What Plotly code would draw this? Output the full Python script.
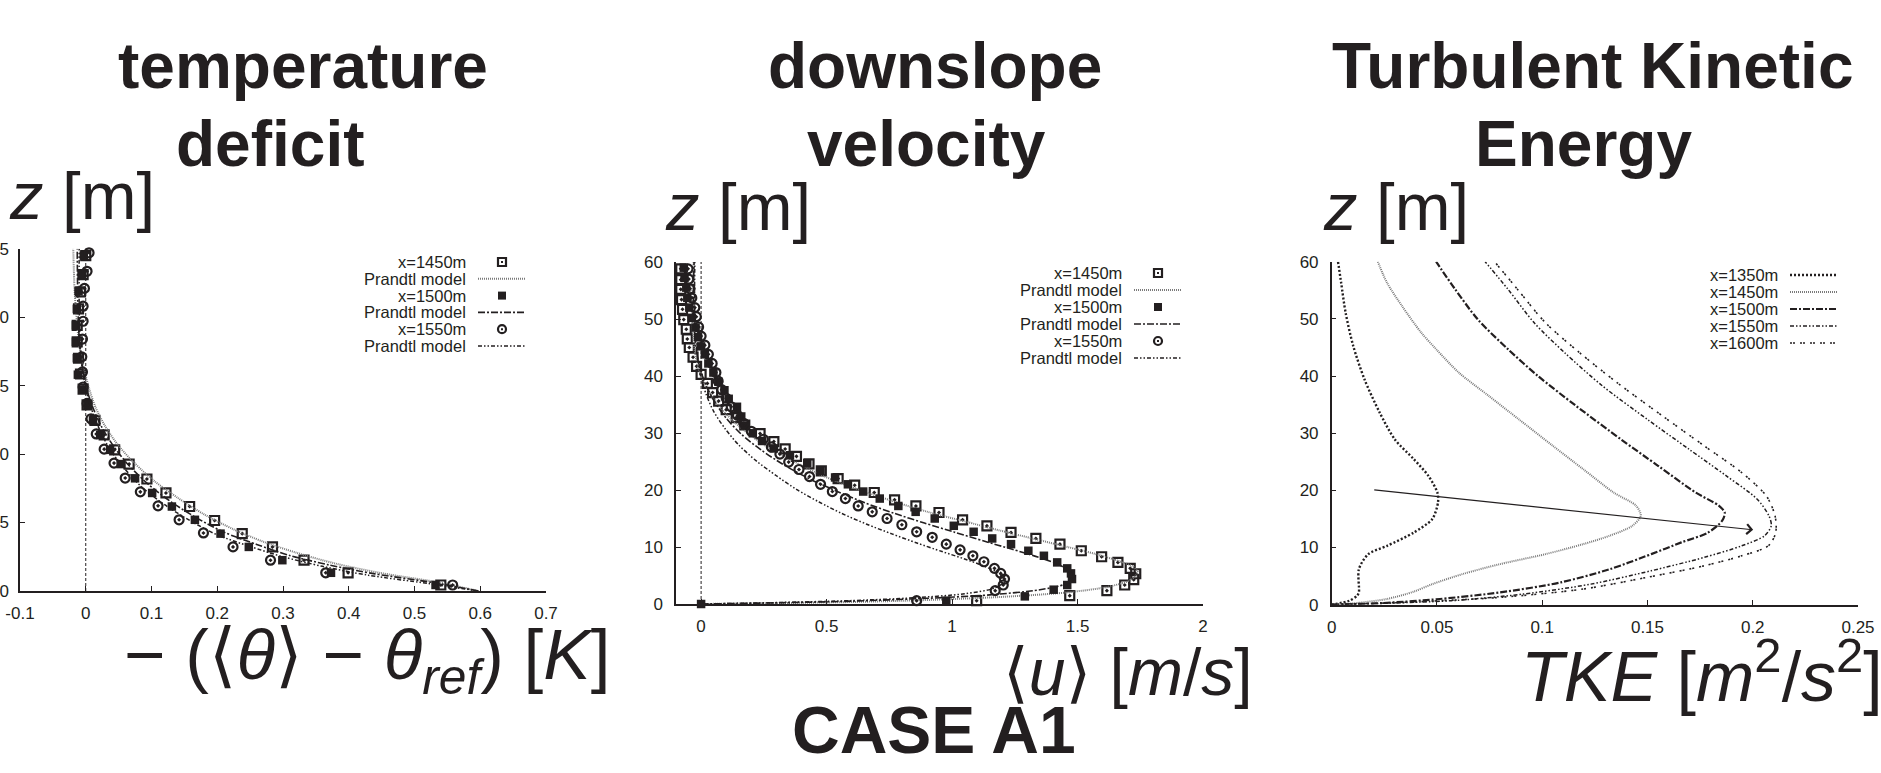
import plotly.graph_objects as go

# ---------------- data ----------------
# Panel 1 : temperature deficit  -(<theta>-theta_ref) [K]  vs z [m]
t1450_x = [0.540, 0.399, 0.332, 0.284, 0.238, 0.196, 0.158, 0.122, 0.093, 0.066, 0.044, 0.028, 0.014,
           0.002, -0.004, -0.008, -0.011, -0.013, -0.013, -0.011, -0.008, -0.004, 0.000]
t1450_z = [0.44, 1.33, 2.25, 3.22, 4.19, 5.15, 6.17, 7.16, 8.18, 9.27, 10.31, 11.40, 12.46,
           13.60, 14.75, 15.85, 17.0, 18.2, 19.4, 20.6, 21.85, 23.1, 24.5]
t1500_x = [0.532, 0.373, 0.299, 0.248, 0.205, 0.166, 0.131, 0.101, 0.075, 0.053, 0.037, 0.022, 0.011,
           0.003, -0.005, -0.012, -0.0135, -0.015, -0.015, -0.0135, -0.011, -0.006, -0.003]
t1500_z = [0.44, 1.33, 2.25, 3.22, 4.19, 5.2, 6.17, 7.16, 8.23, 9.27, 10.31, 11.4, 12.46,
           13.6, 14.7, 15.8, 17.0, 18.2, 19.4, 20.6, 21.9, 23.1, 24.5]
t1550_x = [0.558, 0.365, 0.281, 0.224, 0.179, 0.142, 0.110, 0.083, 0.060, 0.043, 0.028, 0.016, 0.008,
           0.002, -0.004, -0.005, -0.006, -0.005, -0.004, -0.004, -0.002, 0.002, 0.005]
t1550_z = [0.44, 1.33, 2.25, 3.22, 4.24, 5.2, 6.22, 7.24, 8.25, 9.34, 10.36, 11.47, 12.58,
           13.7, 14.9, 16.0, 17.1, 18.4, 19.7, 20.8, 22.1, 23.35, 24.7]
tp1450_x = [0.597, 0.54, 0.45, 0.38, 0.32, 0.27, 0.225, 0.18, 0.14, 0.105, 0.075, 0.05, 0.03, 0.015,
            0.005, -0.003, -0.01, -0.014, -0.017, -0.019]
tp1450_z = [0, 0.6, 1.3, 2.0, 2.8, 3.6, 4.5, 5.6, 6.8, 8.0, 9.3, 10.6, 12.0, 13.4, 14.8, 16.3, 18, 20, 22, 25]
tp1500_x = [0.597, 0.53, 0.44, 0.37, 0.31, 0.26, 0.21, 0.17, 0.13, 0.095, 0.065, 0.042, 0.024, 0.01,
            0.0, -0.006, -0.01, -0.012, -0.013]
tp1500_z = [0, 0.6, 1.25, 1.9, 2.6, 3.4, 4.3, 5.3, 6.5, 7.8, 9.2, 10.6, 12.0, 13.5, 15, 16.5, 18.5, 21, 25]
tp1550_x = [0.597, 0.52, 0.43, 0.36, 0.30, 0.25, 0.20, 0.16, 0.12, 0.085, 0.058, 0.036, 0.02, 0.008,
            -0.001, -0.006, -0.009, -0.01, -0.01]
tp1550_z = [0, 0.55, 1.15, 1.8, 2.5, 3.25, 4.1, 5.1, 6.3, 7.6, 9.0, 10.4, 11.9, 13.4, 15, 16.7, 18.7, 21, 25]

# Panel 2 : downslope velocity <u> [m/s] vs z [m]
u1450_z = [0.58, 1.46, 2.34, 3.33, 4.26, 5.31, 6.25, 7.30, 8.29, 9.34, 10.5, 11.5, 12.55, 13.7, 14.77,
           16.05, 17.2, 18.27, 19.56, 20.84, 22.0, 23.35, 24.6, 25.9, 27.2, 28.5, 29.9, 31.4, 32.7, 34.1,
           35.6, 37.1, 38.7, 40.3, 41.7, 43.3, 45.0, 46.5, 48.2, 49.9, 51.7, 53.4, 55.2, 56.9, 58.8]
u1450_x = [1.098, 1.469, 1.617, 1.688, 1.724, 1.732, 1.710, 1.661, 1.596, 1.515, 1.43, 1.334, 1.235, 1.139,
           1.042, 0.948, 0.856, 0.771, 0.69, 0.612, 0.546, 0.479, 0.43, 0.38, 0.335, 0.29, 0.235, 0.174,
           0.14, 0.10, 0.07, 0.046, 0.025, 0.0, -0.018, -0.032, -0.047, -0.055, -0.059, -0.069, -0.074,
           -0.078, -0.081, -0.081, -0.081]
u1500_z = [0.0, 0.58, 1.34, 2.51, 3.33, 4.38, 5.37, 6.25, 7.30, 8.46, 9.34, 10.5, 11.5, 12.67, 13.72,
           15.0, 16.17, 17.2, 18.5, 19.73, 21.0, 22.2, 23.35, 24.7, 26.1, 27.3, 28.6, 29.95, 31.3, 32.9,
           34.6, 36.0, 37.5, 39.0, 40.6, 42.2, 43.8, 45.2, 46.8, 48.5, 50.2, 52.0, 53.7, 55.5, 57.2, 59.0]
u1500_x = [0.0, 0.977, 1.29, 1.405, 1.459, 1.478, 1.474, 1.459, 1.419, 1.366, 1.304, 1.235, 1.16, 1.086,
           1.007, 0.931, 0.855, 0.786, 0.712, 0.646, 0.585, 0.534, 0.476, 0.423, 0.354, 0.29, 0.243,
           0.206, 0.174, 0.16, 0.143, 0.11, 0.093, 0.069, 0.049, 0.029, 0.015, 0.0, -0.012, -0.022,
           -0.037, -0.047, -0.055, -0.059, -0.066, -0.069]
u1550_z = [0.58, 2.34, 3.33, 4.38, 5.37, 6.25, 7.41, 8.46, 9.5, 10.5, 11.7, 12.67, 13.9, 15.0, 16.17,
           17.2, 18.5, 19.73, 21.0, 22.36, 23.6, 24.9, 26.3, 27.55, 28.9, 30.3, 31.7, 33.1, 34.6, 36.1,
           37.6, 39.1, 40.6, 42.2, 43.8, 45.4, 47.0, 48.6, 50.4, 52.0, 53.7, 55.3, 57.0, 58.8]
u1550_x = [0.859, 1.172, 1.204, 1.209, 1.194, 1.169, 1.127, 1.083, 1.032, 0.977, 0.921, 0.859, 0.80,
           0.741, 0.682, 0.626, 0.575, 0.523, 0.476, 0.432, 0.39, 0.349, 0.314, 0.28, 0.248, 0.2, 0.17,
           0.145, 0.12, 0.1, 0.082, 0.068, 0.059, 0.044, 0.029, 0.015, 0.0, -0.01, -0.019, -0.025,
           -0.037, -0.044, -0.049, -0.052]
up1450_x = [0, 0.3, 0.6, 0.9, 1.2, 1.45, 1.62, 1.71, 1.74, 1.72, 1.66, 1.57, 1.46, 1.33, 1.19, 1.05, 0.9,
            0.76, 0.62, 0.49, 0.37, 0.26, 0.17, 0.1, 0.05, 0.01, -0.015, -0.03, -0.035, -0.035, -0.03]
up1450_z = [0, 0.15, 0.35, 0.7, 1.25, 2.0, 3.0, 4.2, 5.5, 6.6, 7.6, 8.8, 10.0, 11.4, 12.9, 14.5, 16.2,
            18.1, 20.2, 22.4, 25.0, 27.7, 30.5, 33.3, 36.0, 39, 42, 46, 50, 55, 60]
up1500_x = [0, 0.3, 0.6, 0.9, 1.15, 1.35, 1.45, 1.48, 1.46, 1.41, 1.33, 1.24, 1.13, 1.01, 0.89, 0.77,
            0.65, 0.54, 0.43, 0.33, 0.24, 0.16, 0.1, 0.055, 0.02, -0.005, -0.02, -0.028, -0.03, -0.028]
up1500_z = [0, 0.2, 0.5, 1.0, 1.6, 2.5, 3.5, 4.8, 6.0, 7.2, 8.4, 9.6, 11.0, 12.6, 14.2, 15.9, 17.8, 19.8,
            22.0, 24.4, 27.0, 29.8, 32.6, 35.4, 38.3, 41.5, 45, 50, 55, 60]
up1550_x = [0, 0.3, 0.6, 0.85, 1.05, 1.17, 1.21, 1.19, 1.13, 1.05, 0.96, 0.86, 0.76, 0.66, 0.56, 0.47,
            0.38, 0.30, 0.22, 0.15, 0.095, 0.05, 0.02, -0.002, -0.016, -0.024, -0.026, -0.025]
up1550_z = [0, 0.25, 0.6, 1.1, 1.8, 2.8, 4.0, 5.3, 6.6, 7.9, 9.2, 10.7, 12.3, 14.0, 15.9, 17.9, 20.1,
            22.5, 25.1, 27.9, 30.8, 33.8, 36.8, 40, 44, 49, 54, 60]

# Panel 3 : Turbulent kinetic energy TKE [m2/s2] vs z [m]
k1350_x = [0.0, 0.0084, 0.012, 0.0129, 0.0129, 0.0174, 0.0263, 0.0389, 0.0478, 0.0505, 0.0502, 0.046,
           0.0389, 0.030, 0.0228, 0.0156, 0.0102, 0.0066, 0.0045, 0.003]
k1350_z = [0.0, 0.7, 1.57, 2.15, 6.2, 8.85, 10.3, 12.6, 15.0, 17.9, 19.6, 22.5, 25.5, 28.9, 33.6, 39.4,
           45.3, 51.1, 56.3, 60.0]
k1450_x = [0, 0.012, 0.0263, 0.0389, 0.0478, 0.0622, 0.08, 0.1016, 0.1195, 0.132, 0.1428, 0.1468,
           0.1446, 0.134, 0.1195, 0.105, 0.089, 0.0747, 0.0604, 0.0496, 0.0425, 0.0335, 0.0263, 0.0219]
k1450_z = [0, 0.3, 1.0, 2.27, 3.6, 5.36, 7.1, 8.85, 10.6, 12.06, 13.8, 15.55, 17.3, 19.6, 23.7, 27.8,
           32.4, 36.5, 40.6, 44.7, 47.6, 52.2, 56.3, 60]
k1500_x = [0, 0.0246, 0.0514, 0.08, 0.1088, 0.132, 0.1518, 0.1661, 0.1787, 0.1855, 0.1867, 0.184, 0.173,
           0.155, 0.1375, 0.116, 0.098, 0.0837, 0.0694, 0.0586, 0.0496]
k1500_z = [0, 0.3, 1.0, 2.15, 3.9, 6.2, 8.85, 10.9, 12.6, 14.7, 16.1, 17.3, 19.6, 24.3, 28.9, 34.8, 40.0,
           44.7, 49.9, 55.2, 60]
k1550_x = [0, 0.0568, 0.0909, 0.1231, 0.1518, 0.1769, 0.1948, 0.2056, 0.2088, 0.2077, 0.202, 0.1876,
           0.1697, 0.15, 0.1285, 0.1106, 0.0962, 0.0837, 0.0729]
k1550_z = [0, 0.7, 1.86, 3.6, 5.94, 8.27, 10.3, 12.06, 13.8, 15.55, 18.5, 22.5, 27.2, 32.4, 38.3, 44.1,
           49.3, 55.2, 60]
k1600_x = [0, 0.0335, 0.08, 0.1195, 0.15, 0.1769, 0.1948, 0.2074, 0.2109, 0.2106, 0.2065, 0.1948,
           0.1769, 0.1572, 0.1357, 0.1177, 0.1016, 0.0882, 0.0774]
k1600_z = [0, 0.4, 1.28, 2.74, 4.8, 6.8, 8.56, 10.3, 12.6, 15.55, 19.0, 23.1, 27.8, 33.0, 38.8, 44.1,
           49.3, 55.2, 60]
arrow_tail = (0.0195, 20.1)
arrow_head = (0.2002, 13.1)

# tick labels
p1_xticks = [-0.1, 0, 0.1, 0.2, 0.3, 0.4, 0.5, 0.6, 0.7]
p1_xlabels = ["-0.1", "0", "0.1", "0.2", "0.3", "0.4", "0.5", "0.6", "0.7"]
p1_yticks = [0, 5, 10, 15, 20, 25]
p2_xticks = [0, 0.5, 1, 1.5, 2]
p2_xlabels = ["0", "0.5", "1", "1.5", "2"]
p23_yticks = [0, 10, 20, 30, 40, 50, 60]
p3_xticks = [0, 0.05, 0.1, 0.15, 0.2, 0.25]
p3_xlabels = ["0", "0.05", "0.1", "0.15", "0.2", "0.25"]

# ---------------- styling ----------------
W, H = 1881, 773
INK = "#231f20"
GREY = "#7a7a7a"


def px(x):
    return x / W


def py(y):
    return 1 - y / H


STY = {
    "p1450": dict(color=GREY, width=2, dash="1px,1px"),
    "p1500": dict(color=INK, width=1.6, dash="7px,2px,2px,2px"),
    "p1550": dict(color=INK, width=1.5, dash="4px,2px,1.5px,2px,1.5px,2px"),
    "k1350": dict(color=INK, width=2.4, dash="2px,2px"),
    "k1450": dict(color=GREY, width=2, dash="1px,1px"),
    "k1500": dict(color=INK, width=2.2, dash="7px,2px,2px,2px"),
    "k1550": dict(color=INK, width=1.5, dash="4px,2px,1.5px,2px,1.5px,2px"),
    "k1600": dict(color=INK, width=1.6, dash="2px,1px,2px,5px"),
}
MK = {
    "m1450": dict(symbol="square-open-dot", size=9, color=INK, line=dict(width=2.2, color=INK)),
    "m1500": dict(symbol="square", size=8.5, color=INK, line=dict(width=0)),
    "m1550": dict(symbol="circle-open-dot", size=9, color=INK, line=dict(width=2.2, color=INK)),
}

fig = go.Figure()


def pts(x, y, mk, ax):
    fig.add_trace(go.Scatter(x=x, y=y, mode="markers", marker=MK[mk], xaxis="x" + ax, yaxis="y" + ax,
                             cliponaxis=False, showlegend=False, hoverinfo="skip"))


def line(x, y, st, ax):
    fig.add_trace(go.Scatter(x=x, y=y, mode="lines", line=dict(**STY[st], shape="spline", smoothing=0.8),
                             xaxis="x" + ax, yaxis="y" + ax, showlegend=False, hoverinfo="skip"))


# panel 1
pts(t1450_x, t1450_z, "m1450", "")
line(tp1450_x, tp1450_z, "p1450", "")
pts(t1500_x, t1500_z, "m1500", "")
line(tp1500_x, tp1500_z, "p1500", "")
pts(t1550_x, t1550_z, "m1550", "")
line(tp1550_x, tp1550_z, "p1550", "")
# panel 2
pts(u1450_x, u1450_z, "m1450", "2")
line(up1450_x, up1450_z, "p1450", "2")
pts(u1500_x, u1500_z, "m1500", "2")
line(up1500_x, up1500_z, "p1500", "2")
pts(u1550_x, u1550_z, "m1550", "2")
line(up1550_x, up1550_z, "p1550", "2")
# panel 3
line(k1350_x, k1350_z, "k1350", "3")
line(k1450_x, k1450_z, "k1450", "3")
line(k1500_x, k1500_z, "k1500", "3")
line(k1550_x, k1550_z, "k1550", "3")
line(k1600_x, k1600_z, "k1600", "3")

TICKFONT = dict(family="Liberation Sans Narrow, Liberation Sans, Arial", size=17, color=INK)


def xax(domain, rng, tv, tt, anchor):
    return dict(domain=domain, range=rng, tickvals=tv, ticktext=tt, anchor=anchor, showline=True,
                linecolor=INK, linewidth=1.5, ticks="inside", ticklen=5, tickwidth=1, tickcolor=INK,
                showgrid=False, zeroline=False, tickfont=TICKFONT, ticklabelstandoff=6, automargin=False)


def yax(domain, rng, tv, anchor, standoff=8):
    return dict(domain=domain, range=rng, tickvals=tv, ticktext=[str(v) for v in tv], anchor=anchor,
                showline=True, linecolor=INK, linewidth=1.5, ticks="inside", ticklen=5, tickwidth=1,
                tickcolor=INK, showgrid=False, zeroline=False, tickfont=TICKFONT, ticklabelstandoff=standoff,
                automargin=False)


fig.update_layout(
    template="none",
    width=W, height=H, margin=dict(l=0, r=0, t=0, b=0, pad=0, autoexpand=False),
    paper_bgcolor="white", plot_bgcolor="white", showlegend=False,
    xaxis=xax([px(20), px(546)], [-0.1, 0.7], p1_xticks, p1_xlabels, "y"),
    yaxis=yax([py(591), py(248.7)], [0, 25], p1_yticks, "x", standoff=6),
    xaxis2=xax([px(676), px(1203)], [-0.1, 2], p2_xticks, p2_xlabels, "y2"),
    yaxis2=yax([py(604), py(262)], [0, 60], p23_yticks, "x2"),
    xaxis3=xax([px(1331.7), px(1858)], [0, 0.25], p3_xticks, p3_xlabels, "y3"),
    yaxis3=yax([py(604.7), py(261.7)], [0, 60], p23_yticks, "x3"),
)

shapes = []
# dashed zero lines in panels 1 and 2
for ax in ["", "2"]:
    shapes.append(dict(type="line", xref="x" + ax, yref="y" + ax + " domain", x0=0, x1=0, y0=0, y1=1,
                       line=dict(color=INK, width=1, dash="3px,2px"), layer="below"))

annotations = []
TITLEFONT = dict(family="Liberation Sans, Arial", size=64, color=INK)
ZFONT = dict(family="Liberation Sans, DejaVu Sans", size=67, color=INK)


def xfont(size):
    return dict(family="Liberation Sans, DejaVu Sans", size=size, color=INK)


def txt(s, x, y, font, xa="center", ya="middle"):
    annotations.append(dict(text=s, x=px(x), y=py(y), xref="paper", yref="paper", showarrow=False,
                            xanchor=xa, yanchor=ya, font=font, borderpad=0))


# panel titles
txt("<b>temperature</b>", 303, 66, TITLEFONT)
txt("<b>deficit</b>", 270, 144, TITLEFONT)
txt("<b>downslope</b>", 935, 66, TITLEFONT)
txt("<b>velocity</b>", 926, 144, TITLEFONT)
txt("<b>Turbulent Kinetic</b>", 1592, 66, TITLEFONT)
txt("<b>Energy</b>", 1583, 144, TITLEFONT)
txt("<b>CASE A1</b>", 934, 730, dict(family="Liberation Sans, Arial", size=66, color=INK))
# y titles
txt("<i>z</i> [m]", 8, 195, ZFONT, xa="left")
txt("<i>z</i> [m]", 664, 206, ZFONT, xa="left")
txt("<i>z</i> [m]", 1322, 206, ZFONT, xa="left")
# x titles
txt("\u2212 (\u27e8<i>\u03b8</i>\u27e9 \u2212 <i>\u03b8</i><sub><i>ref</i></sub>) [<i>K</i>]", 367, 660, xfont(71))
txt("\u27e8<i>u</i>\u27e9 [<i>m</i>/<i>s</i>]", 1254, 672, xfont(66), xa="right")
txt("<i>TKE</i> [<i>m</i><sup>2</sup>/<i>s</i><sup>2</sup>]", 1520, 672, xfont(70), xa="left")

# gnuplot-like keys
KEYFONT = dict(family="Liberation Sans, Arial", size=16.5, color=INK)


def key_entry(label, kind, style, tx, ty, x0, x1):
    txt(label, tx, ty, KEYFONT, xa="right")
    cx = (x0 + x1) / 2
    if kind == "line":
        shapes.append(dict(type="line", xref="paper", yref="paper", x0=px(x0), x1=px(x1), y0=py(ty), y1=py(ty),
                           line=STY[style]))
    elif style == "m1500":
        shapes.append(dict(type="rect", xref="paper", yref="paper", x0=px(cx - 4), x1=px(cx + 4),
                           y0=py(ty + 4), y1=py(ty - 4), fillcolor=INK, line=dict(width=0)))
    else:
        shapes.append(dict(type="rect" if style == "m1450" else "circle", xref="paper", yref="paper",
                           x0=px(cx - 4), x1=px(cx + 4), y0=py(ty + 4), y1=py(ty - 4), fillcolor="white",
                           line=dict(width=2.2, color=INK)))
        shapes.append(dict(type="rect", xref="paper", yref="paper", x0=px(cx - 1), x1=px(cx + 1),
                           y0=py(ty + 1), y1=py(ty - 1), fillcolor=INK, line=dict(width=0)))


key12 = [("x=1450m", "pt", "m1450"), ("Prandtl model", "line", "p1450"),
         ("x=1500m", "pt", "m1500"), ("Prandtl model", "line", "p1500"),
         ("x=1550m", "pt", "m1550"), ("Prandtl model", "line", "p1550")]
for i, (lab, kind, st) in enumerate(key12):
    key_entry(lab, kind, st, 467, 262 + 16.8 * i, 478, 526)
    key_entry(lab, kind, st, 1123, 273 + 17 * i, 1134, 1182)
key3 = [("x=1350m", "k1350"), ("x=1450m", "k1450"), ("x=1500m", "k1500"), ("x=1550m", "k1550"),
        ("x=1600m", "k1600")]
for i, (lab, st) in enumerate(key3):
    key_entry(lab, "line", st, 1779, 275 + 17 * i, 1790, 1838)

# arrow in TKE panel
annotations.append(dict(x=arrow_head[0], y=arrow_head[1], ax=arrow_tail[0], ay=arrow_tail[1],
                        xref="x3", yref="y3", axref="x3", ayref="y3", showarrow=True, arrowhead=4,
                        arrowsize=1.6, arrowwidth=1.2, arrowcolor=INK, text=""))

fig.update_layout(shapes=shapes, annotations=annotations)

fig.write_html("out.html", config={"displayModeBar": False},
               post_script="document.body.style.margin='0px';document.body.style.overflow='hidden';")
